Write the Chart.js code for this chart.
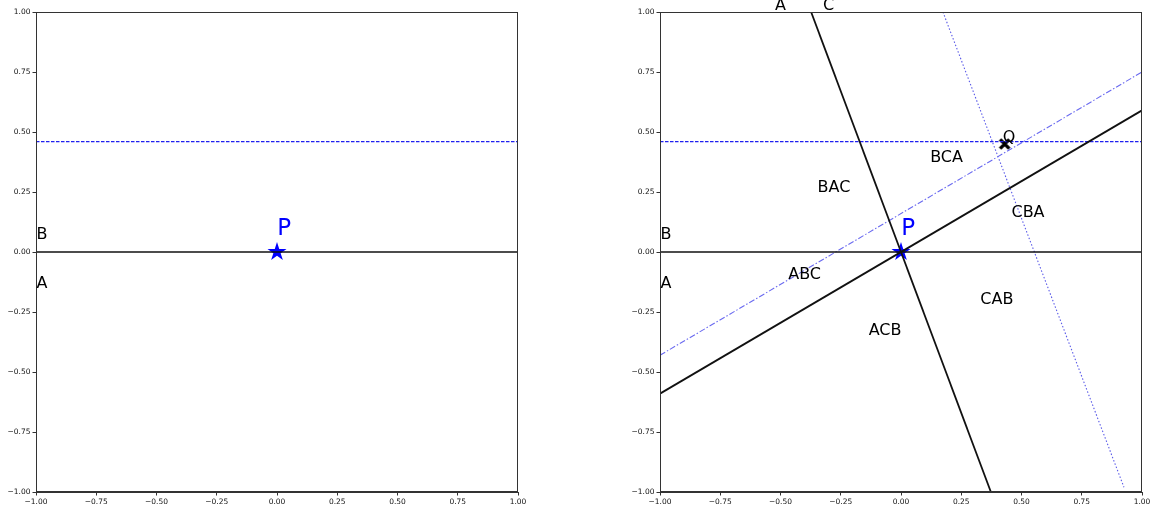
<!DOCTYPE html>
<html>
<head>
<meta charset="utf-8">
<script src="https://cdn.jsdelivr.net/npm/chart.js@4/dist/chart.umd.min.js"></script>
<style>
  html, body { margin: 0; padding: 0; background: #fff; }
  body { width: 1153px; height: 508px; position: relative; overflow: hidden; }
  canvas { position: absolute; top: 0; }
  #left { left: 0; }
  #right { left: 624px; }
</style>
</head>
<body>
<canvas id="left" width="576" height="508"></canvas>
<canvas id="right" width="529" height="508"></canvas>
<script>
// Tick positions shared by both panels
const axisTicks = [-1, -0.75, -0.5, -0.25, 0, 0.25, 0.5, 0.75, 1];

// Base line A–B along y = 0 and the horizontal level through Q
const baseX = [-1, 1];
const baseY = [0, 0];
const levelX = [-1, 1];
const levelY = [0.46, 0.46];

// Point P at the origin
const pointPX = [0];
const pointPY = [0];

// Right panel: the two extra lines through P
const lineBCX = [-1, 1];
const lineBCY = [-0.59, 0.59];
const lineACX = [-0.373, 0.373];
const lineACY = [1, -1];

// Right panel: parallels through Q
const parBCX = [-1, 1];
const parBCY = [-0.43, 0.75];
const parACX = [0.174, 0.925];
const parACY = [1, -0.98];

// Point Q
const pointQX = [0.43];
const pointQY = [0.45];

// Text labels
const leftNames = ['B', 'A'];
const leftNameX = [-0.975, -0.975];
const leftNameY = [0.07, -0.133];

const rightNames = ['A', 'C', 'B', 'A', 'BAC', 'BCA', 'CBA', 'ABC', 'CAB', 'ACB', 'Q'];
const rightNameX = [-0.5, -0.30, -0.975, -0.975, -0.278, 0.189, 0.527, -0.40, 0.398, -0.066, 0.448];
const rightNameY = [1.025, 1.025, 0.07, -0.133, 0.267, 0.394, 0.163, -0.096, -0.20, -0.33, 0.477];

const pLabel = 'P';
const pLabelX = 0.03;
const pLabelY = 0.094;

const pts = (xs, ys) => xs.map((x, i) => ({ x, y: ys[i] }));

// Filled five-point star marker
function starMarker(r, color) {
  const c = document.createElement('canvas');
  const s = Math.ceil(r * 2 + 2);
  c.width = s; c.height = s;
  const g = c.getContext('2d');
  const cx = s / 2, cy = s / 2, ri = r * 0.382;
  g.beginPath();
  for (let i = 0; i < 10; i++) {
    const rad = i % 2 === 0 ? r : ri;
    const a = -Math.PI / 2 + i * Math.PI / 5;
    const px = cx + rad * Math.cos(a), py = cy + rad * Math.sin(a);
    if (i === 0) g.moveTo(px, py); else g.lineTo(px, py);
  }
  g.closePath();
  g.fillStyle = color;
  g.fill();
  return c;
}

// Thick filled X marker
function xMarker(r, color) {
  const c = document.createElement('canvas');
  const s = Math.ceil(r * 2 + 4);
  c.width = s; c.height = s;
  const g = c.getContext('2d');
  const cx = s / 2, cy = s / 2;
  g.strokeStyle = color;
  g.lineWidth = 3.4;
  g.lineCap = 'butt';
  g.beginPath();
  g.moveTo(cx - r, cy - r); g.lineTo(cx + r, cy + r);
  g.moveTo(cx + r, cy - r); g.lineTo(cx - r, cy + r);
  g.stroke();
  return c;
}

const starImg = starMarker(10, '#0000ff');
const crossImg = xMarker(4.6, '#000');

const fmt = v => (v < 0 ? '\u2212' : '') + Math.abs(v).toFixed(2);

function axis(isX) {
  return {
    type: 'linear',
    min: -1, max: 1,
    afterBuildTicks: s => { s.ticks = axisTicks.map(v => ({ value: v })); },
    afterFit: s => { if (isX) s.height = 16; else s.width = 36; },
    ticks: {
      callback: fmt,
      autoSkip: false,
      maxRotation: 0,
      padding: 2,
      color: '#111',
      font: { family: 'DejaVu Sans', size: 7.5 }
    },
    grid: {
      display: true,
      drawOnChartArea: false,
      drawTicks: true,
      tickLength: 3.5,
      color: '#333'
    },
    border: { display: true, color: '#333', width: 1 }
  };
}

// Full box around the plotting area plus data-space text
const framePlugin = {
  id: 'frameText',
  afterDatasetsDraw(chart) {
    const { ctx, chartArea: a, scales } = chart;
    ctx.save();
    ctx.strokeStyle = '#333';
    ctx.lineWidth = 1;
    ctx.strokeRect(a.left + 0.5, a.top + 0.5, a.right - a.left - 1, a.bottom - a.top - 1);
    const items = chart.options.plugins.frameText.items || [];
    ctx.textAlign = 'center';
    ctx.textBaseline = 'middle';
    for (const it of items) {
      ctx.fillStyle = it.color;
      ctx.font = it.size + 'px "DejaVu Sans"';
      ctx.fillText(it.text, scales.x.getPixelForValue(it.x), scales.y.getPixelForValue(it.y));
    }
    ctx.restore();
  }
};

function lineSet(xs, ys, color, width, dash) {
  return {
    data: pts(xs, ys),
    showLine: true,
    borderColor: color,
    borderWidth: width,
    borderDash: dash,
    pointRadius: 0,
    fill: false
  };
}

function markerSet(xs, ys, img) {
  return {
    data: pts(xs, ys),
    showLine: false,
    pointStyle: img,
    pointRadius: 10,
    borderWidth: 0,
    clip: false
  };
}

function makeChart(id, datasets, items, rightPad) {
  return new Chart(document.getElementById(id), {
    type: 'scatter',
    data: { datasets },
    options: {
      responsive: false,
      animation: false,
      devicePixelRatio: 1,
      layout: { padding: { top: 12, right: rightPad, bottom: 0, left: 0 } },
      plugins: {
        legend: { display: false },
        tooltip: { enabled: false },
        frameText: { items }
      },
      scales: { x: axis(true), y: axis(false) }
    },
    plugins: [framePlugin]
  });
}

const leftItems = leftNames.map((t, i) => ({ text: t, x: leftNameX[i], y: leftNameY[i], color: '#000', size: 16 }))
  .concat([{ text: pLabel, x: pLabelX, y: pLabelY, color: '#0000ff', size: 23 }]);

makeChart('left', [
  lineSet(baseX, baseY, '#111', 1.7, []),
  lineSet(levelX, levelY, '#2020f0', 1.2, [3.5, 1.5]),
  markerSet(pointPX, pointPY, starImg)
], leftItems, 58);

const rightItems = rightNames.map((t, i) => ({ text: t, x: rightNameX[i], y: rightNameY[i], color: '#000', size: 16 }))
  .concat([{ text: pLabel, x: pLabelX, y: pLabelY, color: '#0000ff', size: 23 }]);

makeChart('right', [
  lineSet(baseX, baseY, '#111', 1.7, []),
  lineSet(lineBCX, lineBCY, '#111', 1.8, []),
  lineSet(lineACX, lineACY, '#111', 1.8, []),
  lineSet(levelX, levelY, '#2020f0', 1.2, [3.5, 1.5]),
  lineSet(parBCX, parBCY, '#6a6af0', 1.1, [6, 2, 1.5, 2]),
  lineSet(parACX, parACY, '#5a5ae8', 1.1, [1.5, 2]),
  markerSet(pointPX, pointPY, starImg),
  markerSet(pointQX, pointQY, crossImg)
], rightItems, 11);
</script>
</body>
</html>
